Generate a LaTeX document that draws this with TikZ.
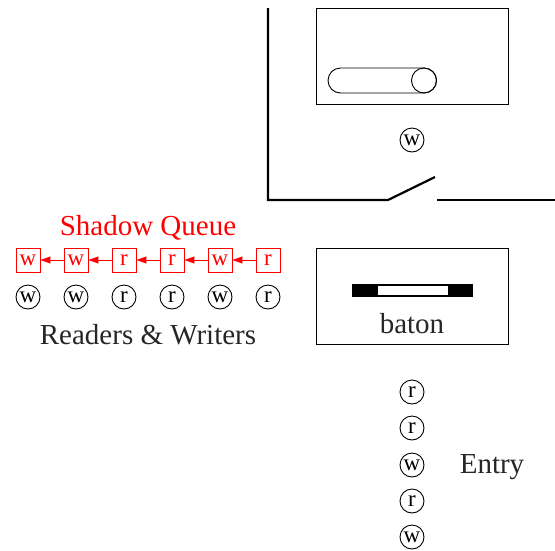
\documentclass[tikz,border=0pt]{standalone}
\usepackage{fontspec}
\setmainfont{Liberation Serif}
\usetikzlibrary{arrows.meta}
\begin{document}
\begin{tikzpicture}[x=1pt,y=-1pt,
  big/.style={font=\fontsize{29}{32}\selectfont, text=black!85},
  token/.style={circle,draw,line width=0.9pt,minimum size=24pt,inner sep=0pt,font=\fontsize{23}{23}\selectfont},
  qbox/.style={rectangle,draw=red,text=red,line width=0.9pt,minimum size=24pt,inner sep=0pt,font=\fontsize{23}{23}\selectfont},
  qarrow/.style={red,line width=0.9pt,-{Triangle[length=10pt,width=7pt]}},
  wall/.style={line width=2.2pt},
  frame/.style={draw,line width=0.9pt}]
\useasboundingbox (0,0) rectangle (555,550);
% wall with door
\coordinate (wt) at (268,8);
\coordinate (wc) at (268,200);
\coordinate (dh) at (388,200);
\coordinate (dt) at (435,177);
\coordinate (rs) at (437,200);
\coordinate (re) at (555,200);
\draw[wall] (wt) -- (wc) -- (dh) -- (dt);
\draw[wall] (rs) -- (re);
% top box
\node[frame,minimum width=192pt,minimum height=96pt,inner sep=0pt] (top) at (412,56) {};
\draw[line width=0.9pt,rounded corners=12.5pt] (328,68) rectangle (436.5,93);
\draw[line width=0.9pt] (424,80.5) circle[radius=12.5];
\node[token] (tw) at (412,140) {w};
% baton box
\node[frame,minimum width=192pt,minimum height=96pt,inner sep=0pt] (bat) at (412,296) {};
\fill[black] (352,284) rectangle (473,297);
\draw[fill=white,line width=0.8pt] (377,285.5) rectangle (448,295.5);
\node[big] (batl) at (412,324) {baton};
% entry column
\node[token] (e1) at (412,392) {r};
\node[token] (e2) at (412,428) {r};
\node[token] (e3) at (412,465) {w};
\node[token] (e4) at (412,501) {r};
\node[token] (e5) at (412,537) {w};
\node[big] (entry) at (492,467) {Entry};
% shadow queue
\node[big,text=red] (sq) at (148,228) {Shadow Queue};
\node[qbox] (q1) at (28,260) {w};
\node[qbox] (q2) at (76,260) {w};
\node[qbox] (q3) at (124,260) {r};
\node[qbox] (q4) at (172,260) {r};
\node[qbox] (q5) at (220,260) {w};
\node[qbox] (q6) at (268,260) {r};
\draw[qarrow] (q2) -- (q1);
\draw[qarrow] (q3) -- (q2);
\draw[qarrow] (q4) -- (q3);
\draw[qarrow] (q5) -- (q4);
\draw[qarrow] (q6) -- (q5);
\node[token] (c1) at (28,297) {w};
\node[token] (c2) at (76,297) {w};
\node[token] (c3) at (124,297) {r};
\node[token] (c4) at (172,297) {r};
\node[token] (c5) at (220,297) {w};
\node[token] (c6) at (268,297) {r};
\node[big] (rw) at (148,335) {Readers \& Writers};
\end{tikzpicture}
\end{document}
